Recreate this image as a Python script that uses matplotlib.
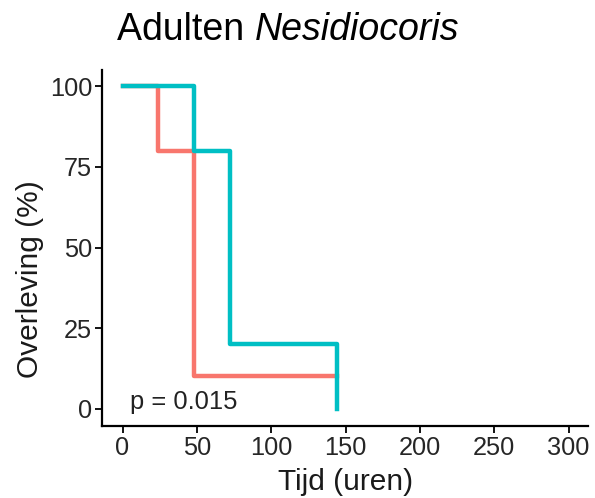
import matplotlib
matplotlib.use("Agg")
import matplotlib.pyplot as plt

plt.rcParams['font.family'] = ['Liberation Sans', 'DejaVu Sans']

# Kaplan-Meier stappen (tijd in uren, overleving in %)
tijd_rood = [0, 24, 48, 144]
overleving_rood = [100, 80, 10, 10]
tijd_blauw = [0, 48, 72, 144]
overleving_blauw = [100, 80, 20, 0]
p_tekst = "p = 0.015"
xticks = [0, 50, 100, 150, 200, 250, 300]
yticks = [0, 25, 50, 75, 100]

fig = plt.figure(figsize=(5.95, 4.98), dpi=100)
ax = fig.add_axes([0.171, 0.145, 0.817, 0.714])

ax.step(tijd_rood, overleving_rood, where='post', color='#F8766D', lw=3.2)
ax.step(tijd_blauw, overleving_blauw, where='post', color='#00BFC4', lw=3.2)

ax.text(5, 2, p_tekst, fontsize=18.4, color='#222222', va='center', ha='left')

ax.set_xlim(-14, 313)
ax.set_ylim(-5.3, 105)
ax.set_xticks(xticks)
ax.set_yticks(yticks)
ax.tick_params(labelsize=18.3, length=5, width=1.3, colors='black',
               labelcolor='#262626', pad=2)
for s in ['top', 'right']:
    ax.spines[s].set_visible(False)
for s in ['left', 'bottom']:
    ax.spines[s].set_linewidth(1.6)
ax.set_xlabel('Tijd (uren)', fontsize=21.5, color='#1a1a1a')
ax.set_ylabel('Overleving (%)', fontsize=21.5, color='#1a1a1a')
ax.xaxis.set_label_coords(0.502, -0.118)
ax.yaxis.set_label_coords(-0.119, 0.413)

# titel: deels cursief
fig.canvas.draw()
r = fig.canvas.get_renderer()
t1 = fig.text(0, 0.92, 'Adulten ', fontsize=27, va='baseline')
t2 = fig.text(0, 0.92, 'Nesidiocoris', fontsize=27, style='italic', va='baseline')
w1 = t1.get_window_extent(r).width / fig.bbox.width
w2 = t2.get_window_extent(r).width / fig.bbox.width
x0 = 0.484 - (w1 + w2) / 2
t1.set_x(x0)
t2.set_x(x0 + w1)

fig.savefig('out.png', dpi=100)
